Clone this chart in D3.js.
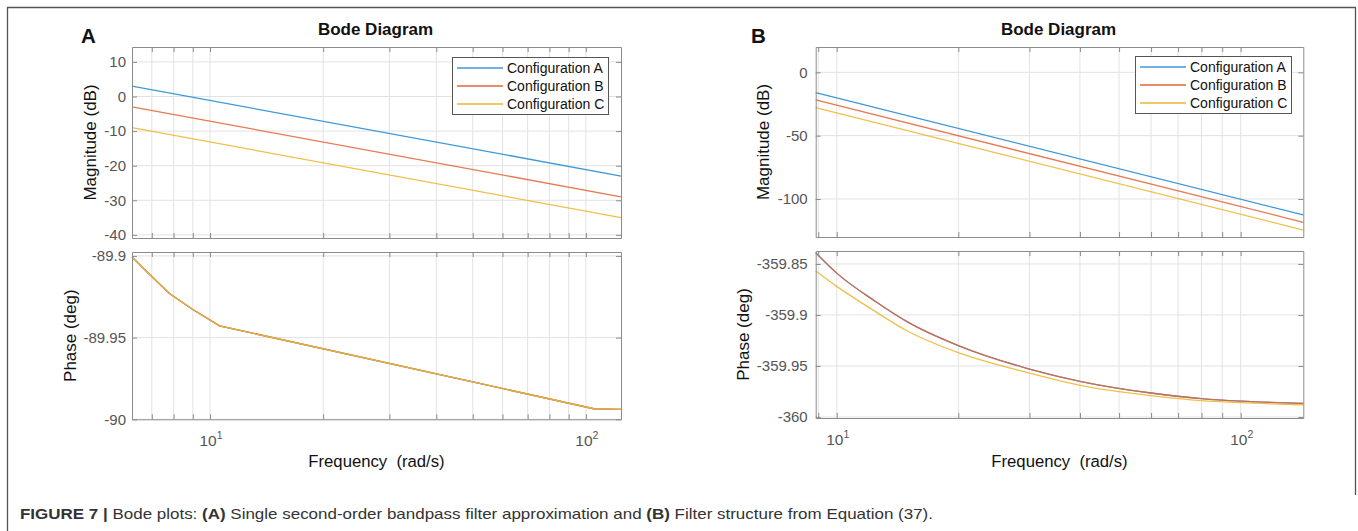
<!DOCTYPE html>
<html><head><meta charset="utf-8">
<script src="https://cdn.jsdelivr.net/npm/d3@7"></script>
<style>
body{margin:0;background:#fff;}
svg{display:block;font-family:Arial,"Liberation Sans",Helvetica,sans-serif;}
</style></head><body>
<svg id="c" width="1358" height="531"></svg>
<script>
// ---------------- data ----------------
const configNames = ["Configuration A", "Configuration B", "Configuration C"];

// Panel A – magnitude (dB)
const freqMagA = [6.2, 124];
const magA_confA = [3.0, -23.0];
const magA_confB = [-3.0, -29.0];
const magA_confC = [-9.0, -35.0];
// Panel A – phase (deg)
const freqPhaseA = [6.2, 6.8, 7.8, 9.0, 10.6, 105.7, 124];
const phaseA_confA = [-89.9006, -89.9098, -89.923, -89.9328, -89.9428, -89.9937, -89.9939];
const phaseA_confB = [-89.9006, -89.9098, -89.923, -89.9328, -89.9428, -89.9937, -89.9939];
const phaseA_confC = [-89.9006, -89.9098, -89.923, -89.9328, -89.9428, -89.9937, -89.9939];

// Panel B – magnitude (dB)
const freqMagB = [8.87, 142.9];
const magB_confA = [-16.0, -112.6];
const magB_confB = [-21.8, -118.4];
const magB_confC = [-27.9, -124.5];
// Panel B – phase (deg)
const freqPhaseB = [8.87, 10, 12.5, 15, 20, 30, 40, 60, 80, 100, 142.9];
const phaseB_confA = [-359.839, -359.859, -359.887, -359.907, -359.930, -359.953, -359.965, -359.9765, -359.982, -359.9845, -359.9866];
const phaseB_confB = [-359.839, -359.859, -359.887, -359.907, -359.930, -359.953, -359.965, -359.9765, -359.982, -359.9845, -359.9866];
const phaseB_confC = [-359.857, -359.872, -359.897, -359.916, -359.937, -359.957, -359.969, -359.979, -359.984, -359.986, -359.988];

// tick values
const magTicksA = [-40, -30, -20, -10, 0, 10];
const phaseTicksA = [-90, -89.95, -89.9];
const magTicksB = [-100, -50, 0];
const phaseTicksB = [-360, -359.95, -359.9, -359.85];
const decadeTicks = [10, 100];
const decadeExponents = ["1", "2"];

// ---------------- styles / layout ----------------
const colors = ["#3d98d8", "#e2663a", "#eeb630"];
const axisColor = "#8c8c8c";
const gridColor = "#e2e2e2";
const tickTextColor = "#555";

const svg = d3.select("#c");

// figure frame
svg.append("path")
  .attr("d", "M7.5,531 V7.5 H1355.5 V495")
  .attr("fill", "none").attr("stroke", "#555").attr("stroke-width", 1.3);

const panels = [
  {
    letter: "A", letterX: 81, x0: 132, x1: 621,
    xDomain: [6.2, 124],
    mag: {top: 47, bot: 238, domain: [-40.9, 14.3], ticks: magTicksA},
    ph: {top: 252, bot: 419.3, domain: [-90, -89.8976], ticks: phaseTicksA},
    magLabelX: 90, phLabelX: 70, labelPad: 6,
    freqMag: freqMagA, mags: [magA_confA, magA_confB, magA_confC],
    freqPh: freqPhaseA, phs: [phaseA_confA, phaseA_confB, phaseA_confC], phCurve: d3.curveLinear,
    legend: {x: 452, y: 57, w: 156, h: 57}
  },
  {
    letter: "B", letterX: 751, x0: 815.7, x1: 1303.3,
    xDomain: [8.87, 142.9],
    mag: {top: 47, bot: 237, domain: [-130, 20], ticks: magTicksB},
    ph: {top: 251, bot: 418, domain: [-360.001, -359.8373], ticks: phaseTicksB},
    magLabelX: 763, phLabelX: 743, labelPad: 8,
    freqMag: freqMagB, mags: [magB_confA, magB_confB, magB_confC],
    freqPh: freqPhaseB, phs: [phaseB_confA, phaseB_confB, phaseB_confC], phCurve: d3.curveMonotoneX,
    legend: {x: 1135, y: 56, w: 156, h: 57}
  }
];

function gridValues(domain) {
  const vals = [];
  for (let k = -1; k <= 3; k++) {
    for (let m = 1; m <= 9; m++) {
      const v = m * Math.pow(10, k);
      if (v >= domain[0] && v <= domain[1]) vals.push(v);
    }
  }
  return vals;
}

function drawSub(p, sub, freqs, seriesList, curve, yLabel, labelX, showXLabels) {
  const x = d3.scaleLog().domain(p.xDomain).range([p.x0, p.x1]);
  const y = d3.scaleLinear().domain(sub.domain).range([sub.bot, sub.top]);
  const g = svg.append("g");
  const gv = gridValues(p.xDomain);

  // grid
  g.append("g").selectAll("line").data(gv).join("line")
    .attr("x1", d => x(d)).attr("x2", d => x(d))
    .attr("y1", sub.top).attr("y2", sub.bot)
    .attr("stroke", gridColor).attr("stroke-width", 1);
  g.append("g").selectAll("line").data(sub.ticks).join("line")
    .attr("x1", p.x0).attr("x2", p.x1)
    .attr("y1", d => y(d)).attr("y2", d => y(d))
    .attr("stroke", gridColor).attr("stroke-width", 1);

  // lines
  const line = d3.line().x(d => x(d[0])).y(d => y(d[1])).curve(curve);
  seriesList.forEach((vals, i) => {
    g.append("path")
      .datum(freqs.map((f, j) => [f, vals[j]]))
      .attr("d", line)
      .attr("fill", "none")
      .attr("stroke", colors[i])
      .attr("stroke-width", 1.3)
      .attr("stroke-opacity", i === 0 ? 1 : 0.88);
  });

  // axes (inward ticks)
  const styleAxis = sel => {
    sel.selectAll(".domain").attr("stroke", axisColor);
    sel.selectAll(".tick line").attr("stroke", axisColor);
    sel.selectAll(".tick text").attr("fill", tickTextColor)
      .style("font-size", "15px").style("font-family", "Arial, 'Liberation Sans', sans-serif");
  };
  g.append("g").attr("transform", `translate(0,${sub.bot})`)
    .call(d3.axisBottom(x).tickValues(gv).tickSizeInner(-5).tickSizeOuter(0).tickFormat(""))
    .call(styleAxis);
  g.append("g").attr("transform", `translate(0,${sub.top})`)
    .call(d3.axisTop(x).tickValues(gv).tickSizeInner(-5).tickSizeOuter(0).tickFormat(""))
    .call(styleAxis);
  g.append("g").attr("transform", `translate(${p.x0},0)`)
    .call(d3.axisLeft(y).tickValues(sub.ticks).tickSizeInner(-5).tickSizeOuter(0)
      .tickPadding(p.labelPad).tickFormat(d => String(d)))
    .call(styleAxis);
  g.append("g").attr("transform", `translate(${p.x1},0)`)
    .call(d3.axisRight(y).tickValues(sub.ticks).tickSizeInner(-5).tickSizeOuter(0).tickFormat(""))
    .call(styleAxis);

  // y label
  g.append("text")
    .attr("transform", `translate(${labelX},${(sub.top + sub.bot) / 2}) rotate(-90)`)
    .attr("text-anchor", "middle").attr("dominant-baseline", "central")
    .style("font-size", "17px").attr("fill", "#111")
    .text(yLabel);

  if (showXLabels) {
    decadeTicks.forEach((d, i) => {
      if (d < p.xDomain[0] || d > p.xDomain[1]) return;
      const t = g.append("text")
        .attr("x", x(d) + 1).attr("y", sub.bot + 27)
        .attr("text-anchor", "middle").attr("fill", tickTextColor)
        .style("font-size", "15.5px");
      t.append("tspan").text("10");
      t.append("tspan").attr("dy", -7).style("font-size", "10.5px").text(decadeExponents[i]);
    });
  }
  return {x, y};
}

panels.forEach(p => {
  const cx = (p.x0 + p.x1) / 2;
  // panel letter
  svg.append("text").attr("x", p.letterX).attr("y", 43)
    .style("font-size", "20.5px").style("font-weight", "bold").attr("fill", "#111").text(p.letter);
  // title
  svg.append("text").attr("x", cx - 1).attr("y", 35).attr("text-anchor", "middle")
    .style("font-size", "17px").style("font-weight", "bold").attr("fill", "#111").text("Bode Diagram");

  drawSub(p, p.mag, p.freqMag, p.mags, d3.curveLinear, "Magnitude (dB)", p.magLabelX, false);
  drawSub(p, p.ph, p.freqPh, p.phs, p.phCurve, "Phase (deg)", p.phLabelX, true);

  // x label
  svg.append("text").attr("x", cx).attr("y", 467).attr("text-anchor", "middle")
    .attr("xml:space", "preserve").style("white-space", "pre")
    .style("font-size", "16.7px").attr("fill", "#111").text("Frequency  (rad/s)");

  // legend
  const L = p.legend;
  const lg = svg.append("g");
  lg.append("rect").attr("x", L.x + 0.5).attr("y", L.y + 0.5).attr("width", L.w).attr("height", L.h)
    .attr("fill", "#fff").attr("stroke", "#555").attr("stroke-width", 1);
  configNames.forEach((name, i) => {
    const yy = L.y + 11 + i * 18;
    lg.append("line").attr("x1", L.x + 5).attr("x2", L.x + 51).attr("y1", yy).attr("y2", yy)
      .attr("stroke", colors[i]).attr("stroke-width", 1.3);
    lg.append("text").attr("x", L.x + 55).attr("y", yy).attr("dominant-baseline", "central")
      .style("font-size", "14px").attr("fill", "#111").text(name);
  });
});

// caption
const cap = svg.append("text").attr("x", 20).attr("y", 519)
  .attr("textLength", 913).attr("lengthAdjust", "spacingAndGlyphs")
  .style("font-family", "'Liberation Sans Narrow', 'Arial Narrow', Arial, sans-serif")
  .style("font-size", "15px").attr("fill", "#333").attr("xml:space", "preserve");
cap.append("tspan").style("font-weight", "bold").text("FIGURE 7 | ");
cap.append("tspan").text("Bode plots: ");
cap.append("tspan").style("font-weight", "bold").text("(A)");
cap.append("tspan").text(" Single second-order bandpass filter approximation and ");
cap.append("tspan").style("font-weight", "bold").text("(B)");
cap.append("tspan").text(" Filter structure from Equation (37).");
</script>
</body></html>
